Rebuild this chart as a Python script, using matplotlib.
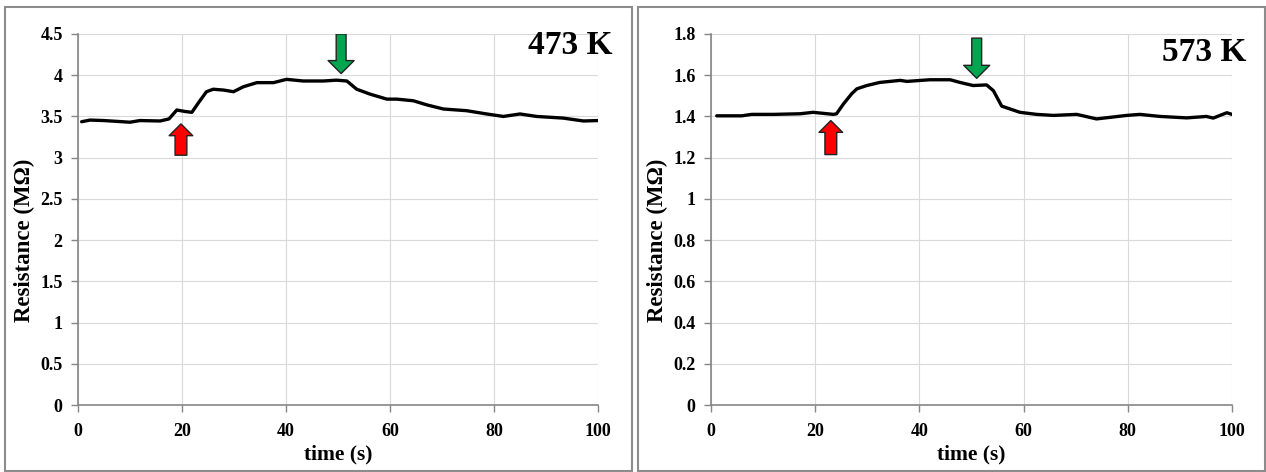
import matplotlib
matplotlib.use('Agg')
import matplotlib.pyplot as plt
from matplotlib.patches import FancyArrowPatch, Rectangle

# данные: время (с) и сопротивление (МОм)
t_473 = [0.7, 2.3, 5, 10, 11.9, 15.8, 17.5, 19, 20.6, 21.9, 23.1, 24.7, 26, 28, 29.9,
         31.8, 34.4, 37.6, 40.1, 43.3, 47.2, 49.7, 51.7, 53.6, 56.2, 59.4, 61.3, 64.5,
         67.1, 70.3, 74.7, 78.6, 81.8, 85, 88.2, 93.3, 97.2, 100]
r_473 = [3.436, 3.456, 3.45, 3.43, 3.45, 3.445, 3.47, 3.578, 3.56, 3.55, 3.66, 3.80,
         3.83, 3.82, 3.80, 3.86, 3.91, 3.91, 3.95, 3.93, 3.93, 3.94, 3.93, 3.83, 3.77,
         3.71, 3.71, 3.69, 3.64, 3.59, 3.57, 3.53, 3.50, 3.53, 3.50, 3.48, 3.445, 3.45]

t_573 = [1.1, 5.9, 7.8, 12, 17.1, 19.6, 23.5, 24.1, 25.4, 27, 28, 29.9, 32.4, 36.3,
         37.6, 42, 45.9, 47.8, 50.3, 52.9, 54.2, 55.8, 59.3, 62.5, 65.7, 70.2, 74,
         79.8, 82.3, 86.2, 91.3, 95.1, 96.4, 99, 100]
r_573 = [1.403, 1.403, 1.41, 1.41, 1.413, 1.42, 1.41, 1.413, 1.46, 1.51, 1.534, 1.55,
         1.565, 1.575, 1.57, 1.578, 1.578, 1.565, 1.55, 1.553, 1.525, 1.45, 1.42, 1.41,
         1.405, 1.41, 1.388, 1.405, 1.41, 1.40, 1.393, 1.40, 1.392, 1.418, 1.41]

# стрелки: (x, y начала, y конца)
red_473 = (19.8, 3.03, 3.41)
green_473 = (50.6, 4.50, 4.02)
red_573 = (23.0, 1.215, 1.38)
green_573 = (51.0, 1.78, 1.585)

W, H = 1266, 472
fig = plt.figure(figsize=(W / 100, H / 100), dpi=100)
fig.patch.set_facecolor('white')

serif = ['Liberation Serif', 'DejaVu Serif']

# рамки панелей
for x0, x1 in [(5, 632), (638, 1265)]:
    fig.patches.append(Rectangle((x0 / W, 1 / H), (x1 - x0) / W, (H - 8) / H,
                                 transform=fig.transFigure, fill=False,
                                 edgecolor='#8c8c8c', linewidth=1.5))

panels = [
    (78, 598, t_473, r_473, 4.5, 0.5, '473 K', 0.97, red_473, green_473),
    (711, 1232, t_573, r_573, 1.8, 0.2, '573 K', 0.95, red_573, green_573),
]

for px0, px1, t, r, ymax, ystep, label, ly, red, green in panels:
    ax = fig.add_axes([px0 / W, (H - 405) / H, (px1 - px0) / W, 371 / H])
    ax.plot(t, r, color='black', linewidth=2.4, solid_capstyle='round',
            solid_joinstyle='round')
    ax.set_xlim(0, 100)
    ax.set_ylim(0, ymax)
    ax.set_xticks(range(0, 101, 20))
    nt = int(round(ymax / ystep))
    ax.set_yticks([i * ystep for i in range(nt + 1)])
    ax.set_yticklabels(['%g' % round(i * ystep, 2) for i in range(nt + 1)])
    ax.grid(True, color='#d9d9d9', linewidth=0.8)
    ax.set_axisbelow(True)
    for s in ['top', 'right']:
        ax.spines[s].set_visible(False)
    for s in ['left', 'bottom']:
        ax.spines[s].set_color('#868686')
        ax.spines[s].set_linewidth(1.2)
    ax.tick_params(colors='#868686', length=5, width=1, direction='out')
    for lab in ax.get_xticklabels() + ax.get_yticklabels():
        lab.set_family(serif)
        lab.set_fontweight('bold')
        lab.set_fontsize(13)
        lab.set_color('black')
    ax.tick_params(axis='x', pad=8)
    ax.tick_params(axis='y', pad=6)
    ax.set_xlabel('time (s)', family=serif, fontweight='bold', fontsize=15.5, labelpad=3)
    ax.set_ylabel('Resistance (MΩ)', family=serif, fontweight='bold', fontsize=16.5)
    ax.yaxis.set_label_coords(-0.082, 0.445)
    ax.text(1.027, ly, label, transform=ax.transAxes, ha='right', va='center',
            family=serif, fontweight='bold', fontsize=24, clip_on=False)

    for (x, y0, y1), col, ms, tw in [(red, '#ff0000', 17, 0.5), (green, '#00a550', 18.7, 0.38)]:
        ax.add_patch(FancyArrowPatch((x, y0), (x, y1),
                                     arrowstyle='simple,head_length=0.5,head_width=1.0,tail_width=%g' % tw,
                                     mutation_scale=ms, facecolor=col, edgecolor='#222222',
                                     linewidth=1, shrinkA=0, shrinkB=0, zorder=5))

fig.savefig('out.png', dpi=100)
